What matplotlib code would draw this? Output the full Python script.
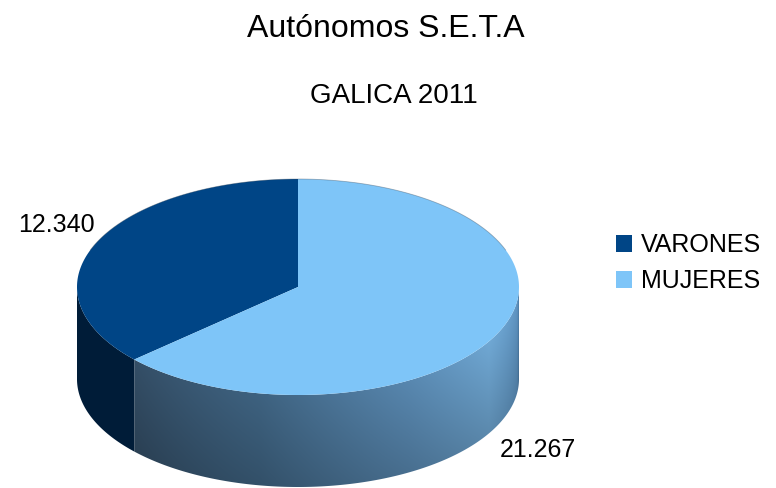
import numpy as np
import matplotlib
matplotlib.use("Agg")
import matplotlib.pyplot as plt
from matplotlib.patches import Polygon, Patch

plt.rcParams['font.family'] = ['Liberation Sans', 'DejaVu Sans']

# ---- data ----
categories = ['VARONES', 'MUJERES']
values = [12340, 21267]
value_labels = ['12.340', '21.267']
title = 'Autónomos S.E.T.A'
subtitle = 'GALICA 2011'

top_colors = ['#004586', '#7ec5f8']

# ---- geometry (pixel coordinates) ----
W, H = 776, 488
cx, cy, rx, ry, depth = 298, 287, 221, 108, 92

fig = plt.figure(figsize=(W / 100, H / 100), dpi=100)
ax = fig.add_axes([0, 0, 1, 1])
ax.set_xlim(0, W)
ax.set_ylim(H, 0)
ax.axis('off')


def pt(theta_deg, dz=0.0):
    t = np.radians(theta_deg)
    return cx + rx * np.cos(t), cy - ry * np.sin(t) + dz


total = float(sum(values))
spans = [v / total * 360.0 for v in values]
starts = [90.0]
for s in spans[:-1]:
    starts.append(starts[-1] + s)

# ---- side faces (front half only: 180..360) ----
def side_poly(a0, a1):
    th = np.linspace(a0, a1, 200)
    xt, yt = pt(th)
    xb, yb = pt(th[::-1], depth)
    return np.column_stack([np.r_[xt, xb], np.r_[yt, yb]])


# gradient image for the light slice side
xs = np.arange(cx - rx, cx + rx + 1)
ys = np.arange(cy - ry, cy + ry + depth + 1)
XX, YY = np.meshgrid(xs, ys)
cosv = np.clip((XX - cx) / rx, -1, 1)
theta = 360 - np.degrees(np.arccos(cosv))  # front-half angle 180..360
stops_t = [180, 222, 260, 300, 330, 352, 360]
stops_c = np.array([[50, 75, 100], [52, 78, 102], [62, 98, 128], [88, 135, 175],
                    [112, 168, 212], [96, 150, 196], [84, 134, 178]]) / 255.0
img = np.zeros(XX.shape + (3,))
for k in range(3):
    img[..., k] = np.interp(theta, stops_t, stops_c[:, k])
# vertical shading: lower parts darker
ytop = cy - ry * np.sin(np.radians(theta))
frac = np.clip((YY - ytop) / depth, 0, 1)
img *= (1.0 - 0.18 * frac)[..., None]

side_dark = '#001c38'
for i, (a0, s) in enumerate(zip(starts, spans)):
    a1 = a0 + s
    lo, hi = max(a0, 180.0), min(a1, 360.0)
    if hi <= lo:
        continue
    poly = Polygon(side_poly(lo, hi), closed=True, facecolor=side_dark if i == 0 else 'none',
                   edgecolor='none')
    ax.add_patch(poly)
    if i == 1:
        im = ax.imshow(img, extent=(xs[0], xs[-1], ys[-1], ys[0]), interpolation='bilinear',
                       zorder=1, aspect='auto')
        im.set_clip_path(poly)

ax.set_xlim(0, W)
ax.set_ylim(H, 0)

# ---- top faces ----
for i, (a0, s) in enumerate(zip(starts, spans)):
    th = np.linspace(a0, a0 + s, 300)
    xt, yt = pt(th)
    verts = np.column_stack([np.r_[cx, xt], np.r_[cy, yt]])
    ax.add_patch(Polygon(verts, closed=True, facecolor=top_colors[i], edgecolor='none', zorder=3))

# faint outline of the back rim
th = np.linspace(20, 160, 200)
xt, yt = pt(th)
ax.plot(xt, yt, color='#3a4a5a', lw=0.6, alpha=0.4, zorder=4)

# ---- value labels ----
label_offsets = [(-1, -11), (0, 34)]
label_ha = ['right', 'left']
for i, (a0, s) in enumerate(zip(starts, spans)):
    mid = a0 + s / 2
    px, py = pt(mid, 0 if np.sin(np.radians(mid)) > 0 else depth)
    dx, dy = label_offsets[i]
    ax.text(px + dx, py + dy, value_labels[i], fontsize=18, ha=label_ha[i], va='baseline',
            color='black', zorder=5)

# ---- titles ----
fig.text(386 / W, 1 - 37 / H, title, fontsize=23, ha='center', va='baseline')
fig.text(393.5 / W, 1 - 103 / H, subtitle, fontsize=20, ha='center', va='baseline')

# ---- legend ----
handles = [Patch(facecolor=c, edgecolor='none') for c in top_colors]
fig.legend(handles, categories, loc='upper left', bbox_to_anchor=(616 / W, 1 - 233 / H),
           frameon=False, fontsize=18, handlelength=0.65, handleheight=0.65,
           handletextpad=0.36, labelspacing=0.48, borderaxespad=0, borderpad=0)

fig.savefig('out.png', dpi=100)
